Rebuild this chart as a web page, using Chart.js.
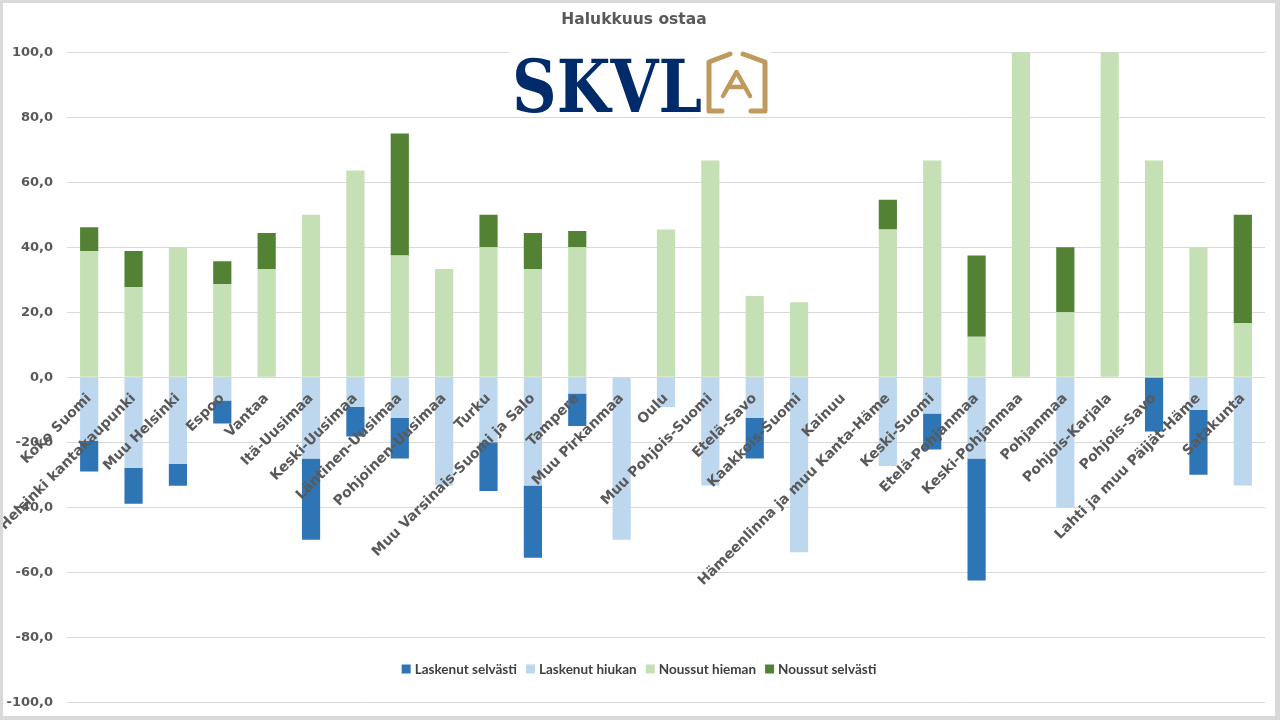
<!DOCTYPE html>
<html>
<head>
<meta charset="utf-8">
<script src="https://cdn.jsdelivr.net/npm/chart.js@4/dist/chart.umd.min.js"></script>
<style>
  html, body { margin: 0; padding: 0; background: #d9d9d9; }
  #wrap { position: absolute; left: 3px; top: 3px; width: 1272px; height: 713px; background: #fff; }
</style>
</head>
<body>
<div id="wrap"><canvas id="myChart"></canvas></div>
<script>
var categories = ['Koko Suomi', 'Helsinki kantakaupunki', 'Muu Helsinki', 'Espoo', 'Vantaa', 'Itä-Uusimaa',
  'Keski-Uusimaa', 'Läntinen-Uusimaa', 'Pohjoinen-Uusimaa', 'Turku', 'Muu Varsinais-Suomi ja Salo', 'Tampere',
  'Muu Pirkanmaa', 'Oulu', 'Muu Pohjois-Suomi', 'Etelä-Savo', 'Kaakkois-Suomi', 'Kainuu',
  'Hämeenlinna ja muu Kanta-Häme', 'Keski-Suomi', 'Etelä-Pohjanmaa', 'Keski-Pohjanmaa', 'Pohjanmaa',
  'Pohjois-Karjala', 'Pohjois-Savo', 'Lahti ja muu Päijät-Häme', 'Satakunta'];

var laskenutSelvasti = [-9.4, -11.1, -6.7, -7.1, 0, -25, -9.1, -12.5, 0, -15, -22.2, -10, 0, 0, 0, -12.5, 0, 0, 0, -11.1, -37.5, 0, 0, 0, -16.7, -20, 0];
var laskenutHiukan = [-19.6, -27.8, -26.7, -7.1, 0, -25, -9.1, -12.5, -33.3, -20, -33.3, -5, -50, -9.1, -33.3, -12.5, -53.8, 0, -27.3, -11.1, -25, 0, -40, 0, 0, -10, -33.3];
var noussutHieman = [38.9, 27.8, 40, 28.6, 33.3, 50, 63.6, 37.5, 33.3, 40, 33.3, 40, 0, 45.5, 66.7, 25, 23.1, 0, 45.5, 66.7, 12.5, 100, 20, 100, 66.7, 40, 16.7];
var noussutSelvasti = [7.3, 11.1, 0, 7.1, 11.1, 0, 0, 37.5, 0, 10, 11.1, 5, 0, 0, 0, 0, 0, 0, 9.1, 0, 25, 0, 20, 0, 0, 0, 33.3];

var yTicks = { min: -100, max: 100, step: 20 };

var colors = {
  ls: '#2e75b6',
  lh: '#bdd7ee',
  nh: '#c5e0b4',
  ns: '#548235'
};

// legend order as in the picture
var legendItems = [
  { text: 'Laskenut selvästi', color: colors.ls },
  { text: 'Laskenut hiukan', color: colors.lh },
  { text: 'Noussut hieman', color: colors.nh },
  { text: 'Noussut selvästi', color: colors.ns }
];

var ox = 3, oy = 3; // canvas offset inside the page

var logoPlugin = {
  id: 'logo',
  afterDraw: function (chart) {
    var ctx = chart.ctx;
    ctx.save();
    ctx.fillStyle = '#ffffff';
    ctx.fillRect(509 - ox, 44 - oy, 262, 71);
    // SKVL text
    ctx.fillStyle = '#002b6a';
    ctx.font = 'bold 72px "DejaVu Serif"';
    ctx.textBaseline = 'alphabetic';
    ctx.textAlign = 'left';
    ctx.fillText('SKVL', 512 - ox, 112 - oy, 190);
    // house
    ctx.strokeStyle = '#c09a5c';
    ctx.lineWidth = 5;
    ctx.lineCap = 'round';
    ctx.lineJoin = 'round';
    ctx.beginPath();
    ctx.moveTo(730 - ox, 54 - oy);
    ctx.lineTo(709 - ox, 62 - oy);
    ctx.lineTo(709 - ox, 111 - oy);
    ctx.lineTo(722 - ox, 111 - oy);
    ctx.moveTo(743 - ox, 54 - oy);
    ctx.lineTo(765 - ox, 62 - oy);
    ctx.lineTo(765 - ox, 111 - oy);
    ctx.lineTo(751 - ox, 111 - oy);
    ctx.stroke();
    ctx.lineWidth = 4.5;
    ctx.beginPath();
    ctx.moveTo(723 - ox, 96 - oy);
    ctx.lineTo(736.5 - ox, 72 - oy);
    ctx.lineTo(750 - ox, 96 - oy);
    ctx.moveTo(728 - ox, 87 - oy);
    ctx.lineTo(745 - ox, 87 - oy);
    ctx.stroke();
    ctx.restore();
  }
};

var legendPlugin = {
  id: 'bottomLegend',
  afterDraw: function (chart) {
    var ctx = chart.ctx;
    ctx.save();
    ctx.font = 'bold 13.5px Lato';
    ctx.textBaseline = 'middle';
    ctx.textAlign = 'left';
    var box = 9, gap = 4, between = 9;
    var total = 0;
    legendItems.forEach(function (it, i) {
      total += box + gap + ctx.measureText(it.text).width + (i < legendItems.length - 1 ? between : 0);
    });
    var x = 639 - ox - total / 2;
    var y = 669 - oy;
    legendItems.forEach(function (it) {
      ctx.fillStyle = it.color;
      ctx.fillRect(x, y - box / 2, box, box);
      x += box + gap;
      ctx.fillStyle = '#404040';
      ctx.fillText(it.text, x, y + 0.5);
      x += ctx.measureText(it.text).width + between;
    });
    ctx.restore();
  }
};

new Chart('myChart', {
  type: 'bar',
  data: {
    labels: categories,
    datasets: [
      { label: 'Laskenut hiukan', data: laskenutHiukan, backgroundColor: colors.lh },
      { label: 'Laskenut selvästi', data: laskenutSelvasti, backgroundColor: colors.ls },
      { label: 'Noussut hieman', data: noussutHieman, backgroundColor: colors.nh },
      { label: 'Noussut selvästi', data: noussutSelvasti, backgroundColor: colors.ns }
    ]
  },
  options: {
    responsive: true,
    maintainAspectRatio: false,
    animation: false,
    layout: {
      padding: { left: 0, right: 10, top: 0, bottom: 13.7 }
    },
    datasets: {
      bar: { categoryPercentage: 1, barPercentage: 0.41 }
    },
    scales: {
      x: {
        stacked: true,
        position: { y: 0 },
        afterFit: function (s) {
          s.paddingLeft = 0; s.paddingRight = 0; s.paddingTop = 0; s.paddingBottom = 0;
        },
        grid: { display: false, drawTicks: false },
        border: { display: false },
        ticks: {
          z: 1,
          autoSkip: false,
          minRotation: 45,
          maxRotation: 45,
          padding: 13,
          color: '#595959',
          font: { family: 'DejaVu Sans', weight: 'bold', size: 14 }
        }
      },
      y: {
        stacked: true,
        min: yTicks.min,
        max: yTicks.max,
        afterFit: function (s) {
          s.width = 64;
          s.paddingTop = 0; s.paddingBottom = 0;
        },
        grid: { color: '#d9d9d9', drawTicks: false },
        border: { display: false },
        ticks: {
          stepSize: yTicks.step,
          padding: 14,
          color: '#595959',
          font: { family: 'DejaVu Sans', weight: 'bold', size: 13 },
          callback: function (v) { return v.toFixed(1).replace('.', ','); }
        }
      }
    },
    plugins: {
      legend: { display: false },
      tooltip: { enabled: false },
      title: {
        display: true,
        text: 'Halukkuus ostaa',
        color: '#595959',
        font: { family: 'DejaVu Sans', weight: 'bold', size: 15.5 },
        padding: { top: 8, bottom: 22.7 }
      }
    }
  },
  plugins: [logoPlugin, legendPlugin]
});
</script>
</body>
</html>
